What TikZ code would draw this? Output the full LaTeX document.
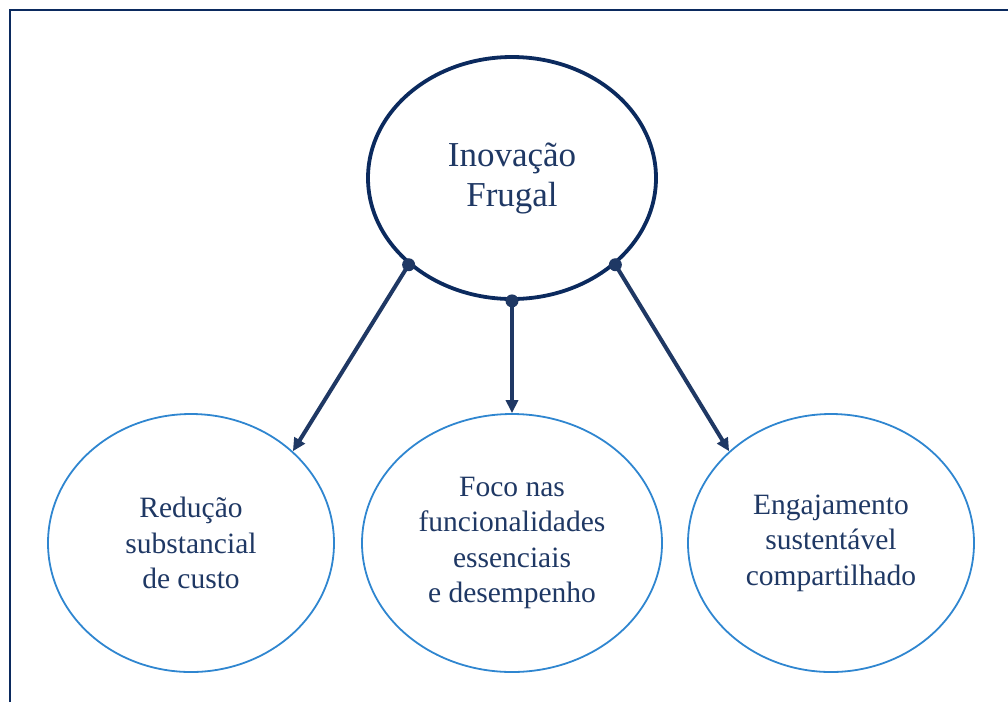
\documentclass[tikz,border=0pt]{standalone}
\usepackage{fontspec}
\setmainfont{Liberation Serif}
\usetikzlibrary{shapes.geometric,arrows.meta}
\definecolor{navy}{HTML}{0B2A5E}
\definecolor{linknavy}{HTML}{1F3864}
\definecolor{skyline}{HTML}{2F86D0}
\tikzset{
  mainnode/.style = {shape=ellipse, draw=navy, line width=3.8pt,
                     inner sep=0pt, minimum width=288pt, minimum height=242pt,
                     align=center, text=linknavy,
                     font=\fontsize{35}{40}\selectfont},
  leaf/.style     = {shape=ellipse, draw=skyline, line width=1.8pt,
                     inner sep=0pt, minimum width=286pt, minimum height=258pt,
                     align=center, text=linknavy,
                     font=\fontsize{29.5}{35.5}\selectfont},
  link/.style     = {draw=linknavy, line width=4pt,
                     -{Triangle[length=13pt,width=12pt]}},
  frame/.style    = {draw=navy, line width=2pt}
}
\begin{document}
\begin{tikzpicture}[x=1pt,y=-1pt]
  \useasboundingbox (0,0) rectangle (1008,702);
  \draw[frame] (10,702) |- (1008,10);

  \node[mainnode] (frugal) at (512,178) {Inova\c{c}\~ao\\Frugal};
  \node[leaf] (custo) at (191,543) {Redu\c{c}\~ao\\substancial\\de custo};
  \node[leaf, minimum width=300pt] (foco) at (512,543)
        {Foco nas\\funcionalidades\\essenciais\\e desempenho};
  \node[leaf] (engaj) at (831,543)
        {Engajamento\\sustent\'avel\\compartilhado};

  % ligacoes
  \draw[link] (frugal.220) -- (custo.42);
  \draw[link] (frugal.south) -- (foco.north);
  \draw[link] (frugal.-40) -- (engaj.138);
  \foreach \a in {220,-90,-40}
    \fill[linknavy] (frugal.\a) circle (6.5pt);
\end{tikzpicture}
\end{document}
